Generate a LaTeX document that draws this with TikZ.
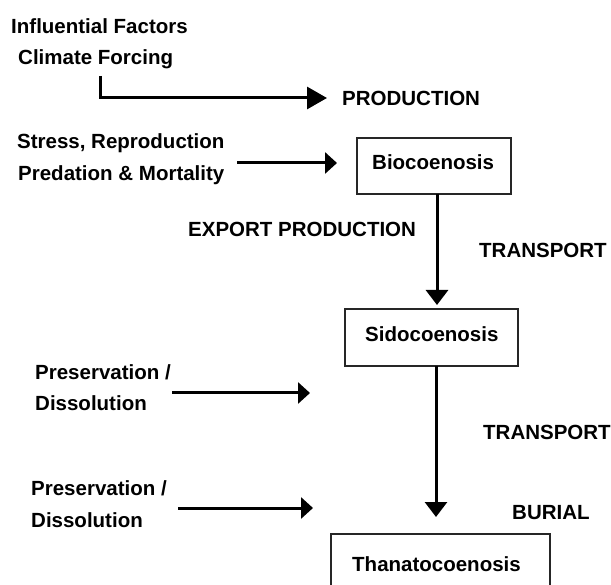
\documentclass[tikz,border=0pt]{standalone}
\usepackage{fontspec}
\setmainfont{Liberation Sans}
\usetikzlibrary{arrows.meta}
\begin{document}
\begin{tikzpicture}[x=1pt,y=-1pt,
  lbl/.style={anchor=base west,inner sep=0pt,font=\bfseries\fontsize{20.5}{24}\selectfont},
  stagebox/.style={draw=black!85,line width=1.3pt,fill=white,inner sep=0pt},
  flow/.style={line width=3pt,-{Triangle[length=12pt,width=21pt]}},
  bigflow/.style={line width=3pt,-{Triangle[length=20pt,width=22pt]}},
  downflow/.style={line width=3pt,-{Triangle[length=15pt,width=22pt]}}]
\useasboundingbox (0,0) rectangle (611,585);
\clip (0,0) rectangle (611,585);
% boxes
\node[stagebox,minimum width=154pt,minimum height=56pt] (bio) at (434,166) {};
\node[lbl] (biot) at (372,170) {Biocoenosis};
\node[stagebox,minimum width=173pt,minimum height=57pt] (sido) at (431.5,337.5) {};
\node[lbl] (sidot) at (365,342) {Sidocoenosis};
\node[stagebox,minimum width=219pt,minimum height=57pt] (thana) at (440.5,562.5) {};
\node[lbl] (thanat) at (352,571) {Thanatocoenosis};
% labels
\node[lbl] (inf) at (11,34) {Influential Factors};
\node[lbl] (clim) at (18,65) {Climate Forcing};
\node[lbl] (prod) at (342,106) {PRODUCTION};
\node[lbl] (stress) at (17,149) {Stress, Reproduction};
\node[lbl] (pred) at (18,181) {Predation \& Mortality};
\node[lbl] (export) at (188,236.5) {EXPORT PRODUCTION};
\node[lbl] (trans1) at (479,258) {TRANSPORT};
\node[lbl] (pres1) at (35,380) {Preservation /};
\node[lbl] (diss1) at (35,411) {Dissolution};
\node[lbl] (trans2) at (483,439) {TRANSPORT};
\node[lbl] (pres2) at (31,496) {Preservation /};
\node[lbl] (burial) at (512,519) {BURIAL};
\node[lbl] (diss2) at (31,527.5) {Dissolution};
% coordinates
\coordinate (c1) at (100,76);
\coordinate (c1e) at (327,98);
\coordinate (c2s) at (237,163);
\coordinate (c2e) at (337,163);
\coordinate (v1s) at (437,194);
\coordinate (v1e) at (437,305);
\coordinate (c3s) at (172,393);
\coordinate (c3e) at (310,393);
\coordinate (v2s) at (436,366);
\coordinate (v2e) at (436,517);
\coordinate (c4s) at (178,508);
\coordinate (c4e) at (313,508);
% connectors
\draw[bigflow] (c1) |- (c1e);
\draw[flow] (c2s) -- (c2e);
\draw[downflow] (v1s) -- (v1e);
\draw[flow] (c3s) -- (c3e);
\draw[downflow] (v2s) -- (v2e);
\draw[flow] (c4s) -- (c4e);
\end{tikzpicture}
\end{document}
